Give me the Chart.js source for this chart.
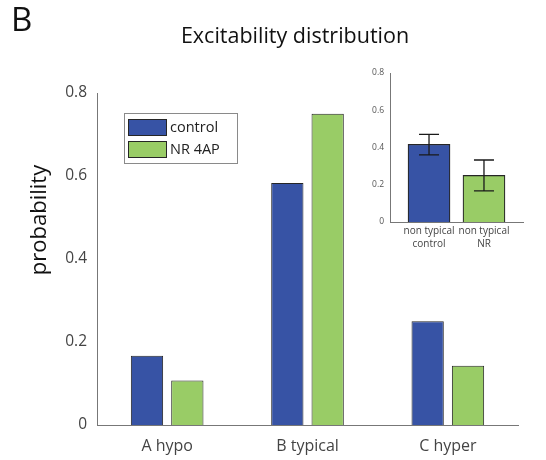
<!DOCTYPE html>
<html>
<head>
<meta charset="utf-8">
<script src="https://cdn.jsdelivr.net/npm/chart.js@4"></script>
<style>
  html, body { margin: 0; padding: 0; background: #fff; }
  #wrap { position: relative; width: 546px; height: 460px; }
  #main { position: absolute; left: 0; top: 0; }
  #inset { position: absolute; left: 355px; top: 60px; }
</style>
</head>
<body>
<div id="wrap">
  <canvas id="main" width="546" height="460"></canvas>
  <canvas id="inset" width="180" height="195"></canvas>
</div>
<script>
// main chart data
const categories = ['A hypo', 'B typical', 'C hyper'];
const controlValues = [0.167, 0.583, 0.25];
const nrValues = [0.107, 0.75, 0.143];
const seriesNames = ['control', 'NR 4AP'];
const yTicks = [0, 0.2, 0.4, 0.6, 0.8];

// inset data
const insetLabels = [['non typical', 'control'], ['non typical', 'NR']];
const insetPositions = [1, 2];
const insetValues = [0.417, 0.25];
const insetErrLow = [0.36, 0.167];
const insetErrHigh = [0.47, 0.333];

const BLUE = 'rgb(55, 83, 165)';
const GREEN = 'rgb(153, 204, 102)';
const EDGE = '#262626';

Chart.defaults.font.family = '"Open Sans", sans-serif';
Chart.defaults.animation = false;

// title, panel letter, y label and boxed legend
const decorations = {
    id: 'decorations',
    afterDraw(chart) {
        const ctx = chart.ctx;
        const area = chart.chartArea;
        ctx.save();
        ctx.fillStyle = '#111';
        ctx.textBaseline = 'middle';
        ctx.font = '33px "Open Sans"';
        ctx.fillText('B', 11, 22);
        ctx.font = '21.5px "Open Sans"';
        ctx.textAlign = 'center';
        ctx.fillText('Excitability distribution', 295, 37);

        ctx.save();
        ctx.translate(40, 220);
        ctx.rotate(-Math.PI / 2);
        ctx.font = '22px "Open Sans"';
        ctx.fillText('probability', 0, 0);
        ctx.restore();

        // legend
        const bx = area.left + 27, by = area.top + 20;
        ctx.strokeStyle = '#8a8a8a';
        ctx.lineWidth = 1;
        ctx.strokeRect(bx + 0.5, by + 0.5, 113, 50);
        ctx.textAlign = 'left';
        ctx.font = '14.5px "Open Sans"';
        chart.data.datasets.forEach((ds, i) => {
            const sy = by + 6 + i * 22;
            ctx.fillStyle = ds.backgroundColor;
            ctx.fillRect(bx + 4, sy, 39, 17);
            ctx.strokeStyle = EDGE;
            ctx.strokeRect(bx + 4.5, sy + 0.5, 38, 16);
            ctx.fillStyle = '#222';
            ctx.fillText(ds.label, bx + 46, sy + 9);
        });
        ctx.restore();
    }
};

new Chart(document.getElementById('main'), {
    type: 'bar',
    data: {
        labels: categories,
        datasets: [{
            label: seriesNames[0],
            data: controlValues,
            backgroundColor: BLUE,
            borderColor: EDGE,
            borderWidth: 1
        }, {
            label: seriesNames[1],
            data: nrValues,
            backgroundColor: GREEN,
            borderColor: EDGE,
            borderWidth: 1
        }]
    },
    options: {
        responsive: false,
        layout: { padding: { top: 93, right: 28, left: 0, bottom: 0 } },
        categoryPercentage: 0.575,
        barPercentage: 0.8,
        plugins: {
            legend: { display: false },
            title: { display: false },
            tooltip: { enabled: false }
        },
        scales: {
            x: {
                grid: { display: false, drawTicks: false },
                border: { color: '#777', width: 1 },
                ticks: { color: '#444', font: { size: 16 }, padding: 12 },
                afterFit: s => { s.height = 35; }
            },
            y: {
                min: 0,
                max: 0.8,
                afterBuildTicks: s => { s.ticks = yTicks.map(v => ({ value: v })); },
                grid: { display: false, drawTicks: false },
                border: { color: '#777', width: 1 },
                ticks: { color: '#444', font: { size: 15.5 }, padding: 10 },
                afterFit: s => { s.width = 97; }
            }
        }
    },
    plugins: [decorations]
});

// error bars for the inset
const errorBars = {
    id: 'errorBars',
    afterDatasetsDraw(chart) {
        const ctx = chart.ctx;
        const meta = chart.getDatasetMeta(0);
        const y = chart.scales.y;
        ctx.save();
        ctx.strokeStyle = '#1a1a1a';
        ctx.lineWidth = 1.3;
        meta.data.forEach((bar, i) => {
            const yl = y.getPixelForValue(insetErrLow[i]);
            const yh = y.getPixelForValue(insetErrHigh[i]);
            ctx.beginPath();
            ctx.moveTo(bar.x, yl); ctx.lineTo(bar.x, yh);
            ctx.moveTo(bar.x - 10, yl); ctx.lineTo(bar.x + 10, yl);
            ctx.moveTo(bar.x - 10, yh); ctx.lineTo(bar.x + 10, yh);
            ctx.stroke();
        });
        ctx.restore();
    }
};

new Chart(document.getElementById('inset'), {
    type: 'bar',
    data: {
        datasets: [{
            data: insetPositions.map((p, i) => ({ x: p, y: insetValues[i] })),
            backgroundColor: [BLUE, GREEN],
            borderColor: EDGE,
            borderWidth: 1.2,
            barThickness: 42
        }]
    },
    options: {
        responsive: false,
        layout: { padding: { top: 13, right: 12, left: 0, bottom: 0 } },
        plugins: {
            legend: { display: false },
            tooltip: { enabled: false }
        },
        scales: {
            x: {
                type: 'linear',
                offset: false,
                min: 0.29,
                max: 2.71,
                afterBuildTicks: s => { s.ticks = insetPositions.map(v => ({ value: v })); },
                grid: { display: false, drawTicks: false, offset: false },
                border: { color: '#777', width: 1 },
                ticks: {
                    color: '#444',
                    font: { size: 10, lineHeight: 1.25 },
                    padding: 3,
                    maxRotation: 0,
                    autoSkip: false,
                    callback: v => insetLabels[insetPositions.indexOf(v)]
                },
                afterFit: s => { s.height = 33; }
            },
            y: {
                min: 0,
                max: 0.8,
                afterBuildTicks: s => { s.ticks = yTicks.map(v => ({ value: v })); },
                grid: { display: false, drawTicks: false },
                border: { color: '#777', width: 1 },
                ticks: { color: '#555', font: { size: 8.5 }, padding: 6 },
                afterFit: s => { s.width = 35; }
            }
        }
    },
    plugins: [errorBars]
});
</script>
</body>
</html>
